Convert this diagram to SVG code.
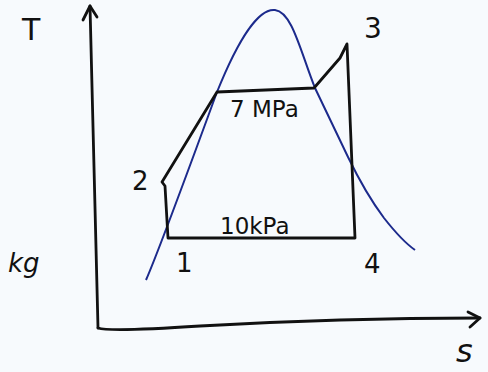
<svg xmlns="http://www.w3.org/2000/svg" width="488" height="372" viewBox="0 0 488 372">
<style>
.ink{fill:none;stroke:#111;stroke-width:2.8;stroke-linecap:round;stroke-linejoin:round}
.dome{fill:none;stroke:#1c2a8c;stroke-width:2}
.lbl{font-family:"DejaVu Sans","Liberation Sans",sans-serif;fill:#111}
</style>
<rect width="488" height="372" fill="#f7fafd"/>
<g id="axes">
<path class="ink" d="M98,328 Q94,170 90,6"/>
<path class="ink" d="M83,20 L90,6 L97,17"/>
<path class="ink" d="M98,328 Q110,332 200,326 Q340,318 480,318"/>
<path class="ink" d="M468,312 L480,318 L470,327"/>
</g>
<g id="dome">
<path class="dome" d="M146,280 C160,248 192,160 217,92 C240,35 260,8 275,10 C292,12 300,50 315,88 L348,157 C362,186 375,206 384,218 C395,232 405,243 415,250"/>
</g>
<g id="cycle">
<path class="ink" d="M168,238 L355,238 L347,44 L340,58 L314,88 L217,92 L162,182 L165,186 L168,238"/>
</g>
<g id="labels" class="lbl">
<text x="22" y="40" font-size="30">T</text>
<text x="8" y="272" font-size="26" font-style="italic">kg</text>
<text x="456" y="362" font-size="32" font-style="italic">s</text>
<text x="132" y="190" font-size="26">2</text>
<text x="176" y="272" font-size="26">1</text>
<text x="364" y="273" font-size="26">4</text>
<text x="364" y="38" font-size="28">3</text>
<text x="230" y="117" font-size="23">7 MPa</text>
<text x="220" y="234" font-size="23">10kPa</text>
</g>
</svg>
